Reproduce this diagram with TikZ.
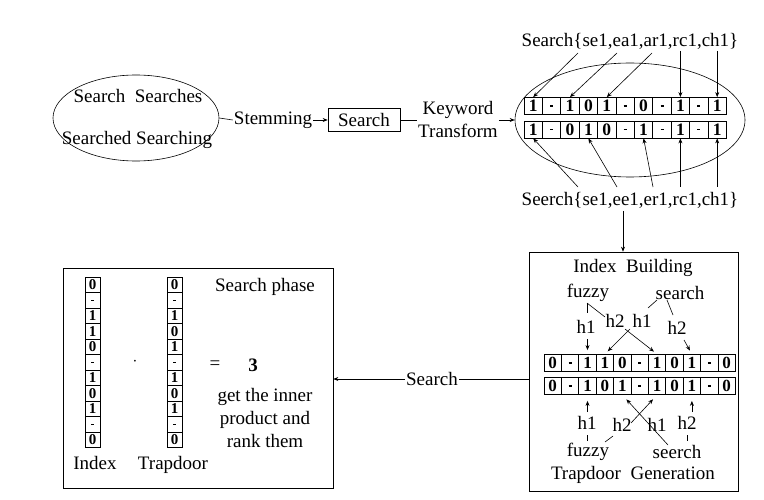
\documentclass[tikz,border=0pt]{standalone}
\usepackage{fontspec}
\setmainfont{Liberation Serif}
\usetikzlibrary{shapes.geometric,arrows.meta}
\newcommand\dsh{\rule{3pt}{1.2pt}}
\begin{document}
\begin{tikzpicture}[x=1pt,y=-1pt,
  every node/.style={font=\fontsize{19}{21}\selectfont, inner sep=1pt},
  ln/.style={line width=0.6pt},
  arr/.style={line width=0.6pt,-{Stealth[length=5pt,width=4pt]}},
  cell/.style={draw,line width=0.8pt,minimum width=18.4pt,minimum height=17pt,inner sep=0pt,font=\fontsize{17.5}{15}\bfseries},
  icell/.style={draw,line width=0.8pt,minimum width=17.4pt,minimum height=17pt,inner sep=0pt,font=\fontsize{17}{15}\bfseries},
  vcell/.style={draw,line width=0.8pt,minimum width=15pt,minimum height=15.5pt,inner sep=0pt,font=\fontsize{15}{14}\bfseries},
  bx/.style={draw,line width=0.6pt,inner sep=0pt}]
\useasboundingbox (0,0) rectangle (764,500);

% ---- top row ----
\node[ellipse,draw,line width=0.6pt,minimum width=166pt,minimum height=86pt] (E1) at (136,118) {};
\node (w1) at (138,96) {Search\ \ Searches};
\node (w2) at (137,140) {Searched Searching};
\node (stem) at (273,120) {Stemming};
\node[bx,minimum width=72pt,minimum height=23pt] (sbox) at (364,120) {Search};
\node[align=center,font=\fontsize{19}{23}\selectfont] (kt) at (458,120) {Keyword\\Transform};
\node[ellipse,draw,line width=0.6pt,minimum width=230pt,minimum height=114pt] (E2) at (630,120) {};
\draw[ln] (E1.east) -- (stem.west);
\draw[arr] (stem.east) -- (sbox.west);
\draw[ln] (sbox.east) -- (kt.west);
\draw[arr] (kt.east) -- (E2.west);

\foreach \v [count=\i] in {1,\dsh,1,0,1,\dsh,0,\dsh,1,\dsh,1}
  \node[cell] (ta\i) at ({524+18.4*(\i-0.5)},106) {\v};
\foreach \v [count=\i] in {1,\dsh,0,1,0,\dsh,1,\dsh,1,\dsh,1}
  \node[cell] (tb\i) at ({524+18.4*(\i-0.5)},129.5) {\v};

\node (toplab) at (630,41) {Search\{se1,ea1,ar1,rc1,ch1\}};
\node (botlab) at (630,200) {Seerch\{se1,ee1,er1,rc1,ch1\}};
\coordinate (t1) at (578,53);
\coordinate (t2) at (617,53);
\coordinate (t3) at (652,53);
\draw[arr] (t1) -- (ta1.north);
\draw[arr] (t2) -- (ta3.north);
\draw[arr] (t3) -- (ta5.north);
\draw[arr] (ta9.north |- 0,51) -- (ta9.north);
\draw[arr] (ta11.north |- 0,51) -- (ta11.north);
\coordinate (b1) at (578,187);
\coordinate (b2) at (617,187);
\coordinate (b3) at (653,187);
\draw[arr] (b1) -- (tb1.south);
\draw[arr] (b2) -- (tb4.south);
\draw[arr] (b3) -- (tb7.south);
\draw[arr] (tb9.south |- 0,187) -- (tb9.south);
\draw[arr] (tb11.south |- 0,187) -- (tb11.south);

% ---- index building box ----
\node[bx,minimum width=209pt,minimum height=239pt] (ib) at (633.5,371.5) {};
\coordinate (d1) at (623,211);
\draw[arr] (d1) -- (d1 |- ib.north);

\node (ibt) at (633,268) {Index\ \ Building};
\node (fz1) at (588,293) {fuzzy};
\node (se1) at (680,293) {search};
\node (h1a) at (586,327) {h1};
\node (h2a) at (615,321) {h2};
\node (h1b) at (642,321) {h1};
\node (h2b) at (677,328) {h2};
\draw[ln] (587,303) -- (587,313);
\draw[ln] (587,303) -- (605,317);
\draw[ln] (657,300) -- (648,308);
\draw[ln] (667,300) -- (673,315);

\foreach \v [count=\i] in {0,\dsh,1,1,0,\dsh,1,0,1,\dsh,0}
  \node[icell] (ra\i) at ({544+17.4*(\i-0.5)},363) {\v};
\foreach \v [count=\i] in {0,\dsh,1,0,1,\dsh,1,0,1,\dsh,0}
  \node[icell] (rb\i) at ({544+17.4*(\i-0.5)},386) {\v};

\draw[arr,shorten >=4pt] (ra3.north |- 0,339) -- (ra3.north);
\draw[arr,shorten >=4pt] (630,329) -- (ra4.north);
\draw[arr,shorten >=4pt] (625,329) -- (ra7.north);
\draw[arr,shorten >=4pt] (684,340) -- (ra9.north);

\node (h1c) at (587,423) {h1};
\node (h2c) at (622,425) {h2};
\node (h1d) at (657,425) {h1};
\node (h2d) at (687,423) {h2};
\node (fz2) at (588,452) {fuzzy};
\node (se2) at (677,452) {seerch};
\node (tg) at (633,475) {Trapdoor\ \ Generation};
\draw[arr,shorten >=6pt] (rb3.south |- 0,412) -- (rb3.south);
\draw[arr,shorten >=6pt] (rb9.south |- 0,412) -- (rb9.south);
\draw[arr,shorten >=6pt] (631,423) -- (rb7.south);
\draw[arr,shorten >=6pt] (668,445) -- (rb5.south);
\draw[ln] (605,442) -- (613,436);
\draw[ln] (587,435) -- (587,441);
\draw[ln] (687,435) -- (687,441);

% ---- search phase box ----
\node[bx,minimum width=270pt,minimum height=220pt] (sp) at (198,378) {};
\node (sl) at (432,379) {Search};
\draw[ln] (ib.west |- sl) -- (sl.east);
\draw[arr] (sl.west) -- (sp.east |- sl);

\foreach \v [count=\i] in {0,\dsh,1,1,0,\dsh,1,0,1,\dsh,0}
  \node[vcell] (ci\i) at (92.5,{277+15.5*(\i-0.5)}) {\v};
\foreach \v [count=\i] in {0,\dsh,1,0,1,\dsh,1,0,1,\dsh,0}
  \node[vcell] (ct\i) at (174.5,{277+15.5*(\i-0.5)}) {\v};
\node (il) at (95,463) {Index};
\node (tl) at (173,465) {Trapdoor};
\node (dot) at (135,362) {$\cdot$};
\node (eq) at (215,365) {=};
\node[font=\fontsize{19}{21}\bfseries] (three) at (253,365) {3};
\node (sph) at (265,287) {Search phase};
\node[align=center,font=\fontsize{19}{23}\selectfont] (gt) at (265,418) {get the inner\\product and\\rank them};
\end{tikzpicture}
\end{document}
